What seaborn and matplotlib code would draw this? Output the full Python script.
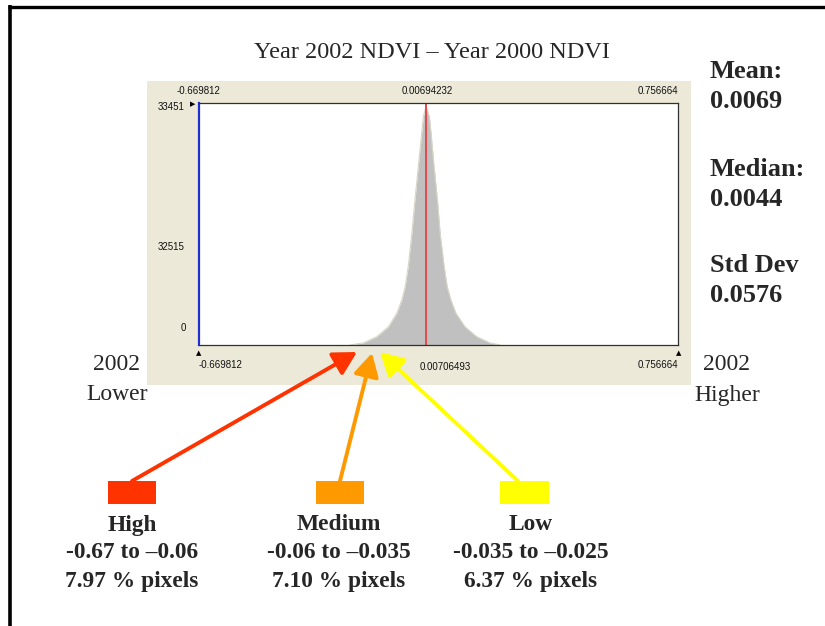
import matplotlib
matplotlib.use("Agg")
import matplotlib.pyplot as plt
from matplotlib.patches import Rectangle, FancyArrowPatch
import seaborn as sns
import pandas as pd

# ---------------- data ----------------
ndvi_diff = [-0.219, -0.179, -0.140, -0.105, -0.080, -0.065, -0.055, -0.046,
             -0.035, -0.026, -0.016, -0.006, -0.001, 0.007, 0.017, 0.022,
             0.031, 0.041, 0.049, 0.061, 0.070, 0.081, 0.096, 0.123,
             0.158, 0.197, 0.227]
pixel_count = [0, 300, 1140, 2510, 4380, 6220, 8030, 10800,
               15420, 20000, 24590, 29200, 31480, 32950, 31480, 29200,
               24590, 20000, 15420, 10800, 8030, 6220, 4380, 2510,
               1140, 300, 0]

x_min, x_max = -0.669812, 0.756664
mean_line = 0.00694232
y_max = 33451
top_labels = ["-0.669812", "0.00694232", "0.756664"]
bottom_labels = ["-0.669812", "0.00706493", "0.756664"]
y_labels = ["33451", "32515", "0"]

title = "Year 2002 NDVI \u2013 Year 2000 NDVI"
stats = [("Mean:", "0.0069"), ("Median:", "0.0044"), ("Std Dev", "0.0576")]

classes = ["High", "Medium", "Low"]
class_ranges = ["-0.67 to \u20130.06", "-0.06 to \u20130.035", "-0.035 to \u20130.025"]
class_pct = ["7.97 % pixels", "7.10 % pixels", "6.37 % pixels"]
class_colors = ["#FF3300", "#FF9900", "#FFFF00"]

df = pd.DataFrame({"diff": ndvi_diff, "count": pixel_count})

# ---------------- figure ----------------
sns.set_style("white")
plt.rcParams["font.family"] = ["Liberation Serif", "DejaVu Serif"]

W, H = 825, 626
fig = plt.figure(figsize=(W / 100, H / 100), dpi=100)
fig.patch.set_facecolor("white")

# overlay axes in pixel coordinates for annotations
bg = fig.add_axes([0, 0, 1, 1], zorder=0)
bg.set_xlim(0, W)
bg.set_ylim(H, 0)
bg.axis("off")

# frame lines
bg.plot([9.5, 9.5], [5, H], color="black", lw=2.6, solid_capstyle="butt")
bg.plot([8, W], [6.5, 6.5], color="black", lw=2.4, solid_capstyle="butt")

# beige panel
bg.add_patch(Rectangle((147, 81), 691 - 147, 385 - 81, facecolor="#ECE9D8",
                       edgecolor="none"))

# main histogram axes
L, R, T, B = 198.5, 678.0, 102.5, 345.0
ax = fig.add_axes([L / W, 1 - B / H, (R - L) / W, (B - T) / H], zorder=1)
ax.set_facecolor("white")
ax.fill_between(df["diff"], df["count"], 0, color="#C0C0C0", lw=0)
sns.lineplot(data=df, x="diff", y="count", ax=ax, color="#D9D6C6", lw=0.8,
             sort=False)
ax.axvline(mean_line, color="#E8474A", lw=1.4)
ax.set_xlim(x_min, x_max)
ax.set_ylim(0, y_max)
ax.set_xticks([])
ax.set_yticks([])
ax.set_xlabel("")
ax.set_ylabel("")
for side in ["top", "right", "bottom"]:
    ax.spines[side].set_visible(True)
    ax.spines[side].set_color("#303030")
    ax.spines[side].set_linewidth(0.9)
ax.spines["left"].set_visible(True)
ax.spines["left"].set_color("#1F2FD0")
ax.spines["left"].set_linewidth(1.6)

small = dict(family=["Liberation Sans", "DejaVu Sans"], fontsize=7, color="#111111")

# top labels
bg.text(L, 91, top_labels[0], ha="center", va="center", **small)
bg.text(427, 91, top_labels[1], ha="center", va="center", **small)
bg.text(R, 91, top_labels[2], ha="right", va="center", **small)
# bottom labels
bg.text(L, 365, bottom_labels[0], ha="left", va="center", **small)
bg.text(420, 367, bottom_labels[1], ha="left", va="center", **small)
bg.text(R, 365, bottom_labels[2], ha="right", va="center", **small)
# y labels
bg.text(185, 107, y_labels[0], ha="right", va="center", **small)
bg.text(185, 247, y_labels[1], ha="right", va="center", **small)
bg.text(186, 328, y_labels[2], ha="right", va="center", **small)
# markers
bg.text(193, 104, "\u25B6", ha="center", va="center",
        family=["DejaVu Sans"], fontsize=5, color="black")
bg.text(L, 353, "\u25B2", ha="center", va="center",
        family=["DejaVu Sans"], fontsize=5, color="black")
bg.text(R + 1, 353, "\u25B2", ha="center", va="center",
        family=["DejaVu Sans"], fontsize=5, color="black")

# title
bg.text(432, 52, title, ha="center", va="center", fontsize=17.5,
        family=["Liberation Serif"])

# stats
stat_y = [(72, 102), (170, 199), (265, 296)]
for (lab, val), (y1, y2) in zip(stats, stat_y):
    bg.text(710, y1, lab, ha="left", va="center", fontsize=19,
            fontweight="bold", family=["Liberation Serif"])
    bg.text(710, y2, val, ha="left", va="center", fontsize=19,
            fontweight="bold", family=["Liberation Serif"])

# side labels
bg.text(116, 365, "2002", ha="center", va="center", fontsize=17)
bg.text(117, 395, "Lower", ha="center", va="center", fontsize=17)
bg.text(727, 365, "2002", ha="center", va="center", fontsize=17)
bg.text(727, 395, "Higher", ha="center", va="center", fontsize=17)

# legend boxes, labels and arrows
box_x = [108, 316, 500]
box_w = [48, 48, 49]
tails = [(132, 481), (340, 481), (518, 481)]
tips = [(357, 352), (372, 353), (380, 352)]
centers = [132, 339, 531]
for i in range(3):
    bg.add_patch(Rectangle((box_x[i], 481), box_w[i], 23,
                           facecolor=class_colors[i], edgecolor="none"))
    arr = FancyArrowPatch(tails[i], tips[i], arrowstyle="-|>,head_length=1.0,head_width=0.55",
                          mutation_scale=14, color=class_colors[i], lw=2.8,
                          shrinkA=0, shrinkB=0)
    bg.add_patch(arr)
    bg.text(centers[i], 525, classes[i], ha="center", va="center",
            fontsize=16.8, fontweight="bold")
    bg.text(centers[i], 553, class_ranges[i], ha="center", va="center",
            fontsize=16.8, fontweight="bold")
    bg.text(centers[i], 582, class_pct[i], ha="center", va="center",
            fontsize=16.8, fontweight="bold")

fig.savefig("out.png", dpi=100, facecolor="white")
